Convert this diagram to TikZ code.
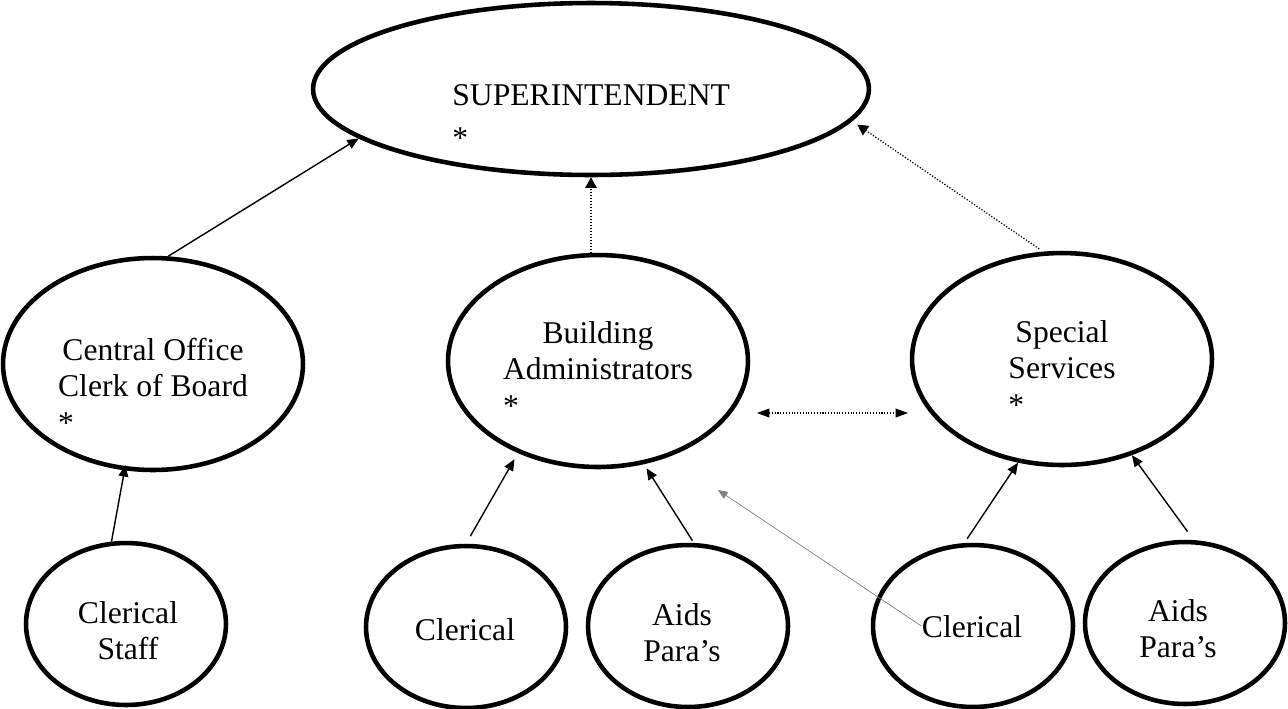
\documentclass[tikz,border=0pt]{standalone}
\usepackage{fontspec}
\setmainfont{Liberation Serif}
\usetikzlibrary{arrows.meta,shapes.geometric}

\tikzset{
    oval/.style={ellipse, draw=black, line width=2.6pt, inner sep=0pt},
    txt/.style={inner sep=0pt, anchor=base, font=\fontsize{18}{21}\selectfont},
    link/.style={line width=0.8pt, -{Triangle[length=6.5pt,width=5.5pt]}},
    dotlink/.style={line width=0.7pt, densely dotted, -{Triangle[length=6pt,width=6.5pt]}},
    dotboth/.style={line width=0.6pt, densely dotted, {Triangle[length=7pt,width=5pt]}-{Triangle[length=7pt,width=5pt]}},
    faint/.style={line width=0.4pt, gray, -{Triangle[length=5.5pt,width=4.5pt]}}
}

\begin{document}
\begin{tikzpicture}[x=0.02cm, y=-0.02cm]

    % Define ellipse sizes (1 unit = 1 px of the page)
    \def\topw{11.12cm} % superintendent
    \def\toph{3.44cm}
    \def\midw{6.0cm} % second row
    \def\midh{4.24cm}
    \def\loww{4.0cm} % staff row
    \def\lowh{3.24cm}

    \useasboundingbox (0,0) rectangle (1288,708);

    % --- Top ---
    \node[oval, minimum width=\topw, minimum height=\toph] (super) at (591,89) {};
    \node[txt, anchor=base west] (superTxt) at (452,105) {\begin{tabular}[t]{@{}l@{}}SUPERINTENDENT\\[3.5pt]*\end{tabular}};

    % --- Second row ---
    \foreach \nm/\x/\y in {co/153/364, ba/598/361, ss/1062/359} {
        \node[oval, minimum width=\midw, minimum height=\midh] (\nm) at (\x,\y) {};
    }
    \node[txt] (coTxt) at (153,360) {\begin{tabular}[t]{@{}c@{}}Central Office\\Clerk of Board\\\multicolumn{1}{@{}l@{}}{*}\end{tabular}};
    \node[txt] (baTxt) at (598,343) {\begin{tabular}[t]{@{}c@{}}Building\\Administrators\\\multicolumn{1}{@{}l@{}}{*}\end{tabular}};
    \node[txt] (ssTxt) at (1062,342) {\begin{tabular}[t]{@{}c@{}}Special\\Services\\\multicolumn{1}{@{}l@{}}{*}\end{tabular}};

    % --- Staff row ---
    \foreach \nm/\x/\y in {cs/126/624, cl1/466/627, ap1/688/626, cl2/973/626, ap2/1185/623} {
        \node[oval, minimum width=\loww, minimum height=\lowh] (\nm) at (\x,\y) {};
    }
    \node[txt] (csTxt) at (128,623) {\begin{tabular}[t]{@{}c@{}}Clerical\\Staff\end{tabular}};
    \node[txt] (cl1Txt) at (465,640) {Clerical};
    \node[txt] (ap1Txt) at (682,625) {\begin{tabular}[t]{@{}c@{}}Aids\\Para’s\end{tabular}};
    \node[txt] (cl2Txt) at (972,637) {Clerical};
    \node[txt] (ap2Txt) at (1178,621) {\begin{tabular}[t]{@{}c@{}}Aids\\Para’s\end{tabular}};

    % free ends
    \coordinate (pairL) at (757,413);
    \coordinate (pairR) at (908,413);
    \coordinate (faintTip) at (718,490);

    % --- Solid arrows ---
    \draw[link] (co.82) -- (super.192);
    \draw[link, shorten >=-3pt] (cs.100) -- (co.255);
    \draw[link, shorten <=5pt, shorten >=4pt] (cl1.north) -- (ba.229);
    \draw[link, shorten <=1.5pt, shorten >=2.7pt] (ap1.86) -- (ba.294);
    \draw[link, shorten <=3pt] (cl2.96) -- (ss.247);
    \draw[link, shorten <=6pt] (ap2.84) -- (ss.306);

    % --- Dotted arrows ---
    \draw[dotlink] (super.south |- ba.north) -- (super.south);
    \draw[dotlink, shorten <=2.7pt, shorten >=3.7pt] (ss.100) -- (super.-7);
    \draw[dotboth] (pairL) -- (pairR);

    % --- Faint arrow ---
    \draw[faint] (cl2Txt.west) -- (faintTip);

\end{tikzpicture}
\end{document}
